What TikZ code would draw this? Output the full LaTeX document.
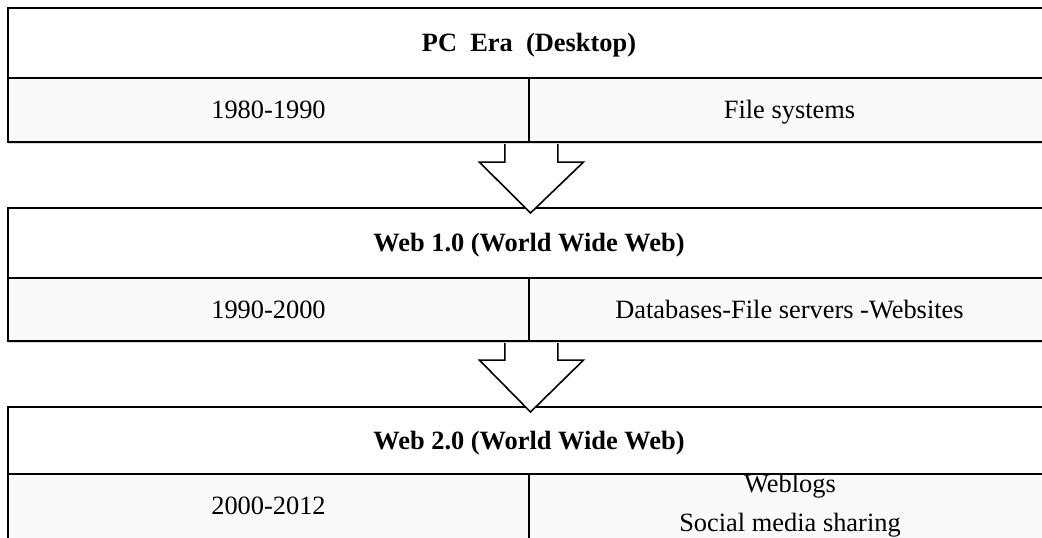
\documentclass[tikz,border=0pt]{standalone}
\usepackage{fontspec}
\setmainfont{Liberation Serif}
\usetikzlibrary{calc,shadows}
\begin{document}
\begin{tikzpicture}[x=0.75pt,y=-0.75pt,
  txt/.style={font=\fontsize{19.8}{24}\selectfont},
  box/.style={draw=black, line width=1.4pt, rectangle, inner sep=0pt,
    text height=13pt, text depth=0.2pt, txt},
  titlecell/.style={box, fill=white, font=\fontsize{19.8}{24}\selectfont\bfseries,
    minimum width=781.5pt},
  rowcell/.style={box, fill=gray!4, minimum width=390.75pt,
    drop shadow={shadow xshift=0pt, shadow yshift=-1.6pt, opacity=0.3}},
  bigarrow/.style={draw=black, line width=1.2pt, fill=white, line join=miter}]
\useasboundingbox (0,0) rectangle (1042,538);
\clip (0,0) rectangle (1042,538);

% Box 1
\node[rowcell, minimum height=48pt] (l1) at (268.5,110) {1980-1990};
\node[rowcell, minimum height=48pt] (r1) at (789.5,110) {File systems};
\node[titlecell, minimum height=52.5pt] (t1) at (529,43) {PC\ \ Era\ \ (Desktop)};

% Box 2
\node[rowcell, minimum height=47.25pt] (l2) at (268.5,309.5) {1990-2000};
\node[rowcell, minimum height=47.25pt] (r2) at (789.5,309.5) {Databases-File servers -Websites};
\node[titlecell, minimum height=52.5pt] (t2) at (529,243) {Web 1.0 (World Wide Web)};

% Box 3
\node[rowcell, minimum height=53.25pt] (l3) at (268.5,509.5) {};
\node[rowcell, minimum height=53.25pt] (r3) at (789.5,509.5) {};
\node[titlecell, minimum height=50.25pt] (t3) at (529,440.5) {Web 2.0 (World Wide Web)};
\node[txt, anchor=base, inner sep=0pt] (d3) at (268.5,514) {2000-2012};
\node[txt, anchor=base, inner sep=0pt] (w3a) at (790,492) {Weblogs};
\node[txt, anchor=base, inner sep=0pt] (w3b) at (790,531) {Social media sharing};

% Arrows
\coordinate (s1) at ($(l1.south east)+(1.5,1.2)$);
\coordinate (e1) at (530.5,213);
\draw[bigarrow] ($(s1)+(-26.5,0)$) -- ($(s1)+(-26.5,18)$) -- ($(s1)+(-52,18)$)
  -- (e1) -- ($(s1)+(52,18)$) -- ($(s1)+(26.5,18)$) -- ($(s1)+(26.5,0)$);

\coordinate (s2) at ($(l2.south east)+(1.5,1.2)$);
\coordinate (e2) at (530.5,412);
\draw[bigarrow] ($(s2)+(-26.5,0)$) -- ($(s2)+(-26.5,17)$) -- ($(s2)+(-52,17)$)
  -- (e2) -- ($(s2)+(52,17)$) -- ($(s2)+(26.5,17)$) -- ($(s2)+(26.5,0)$);
\end{tikzpicture}
\end{document}
